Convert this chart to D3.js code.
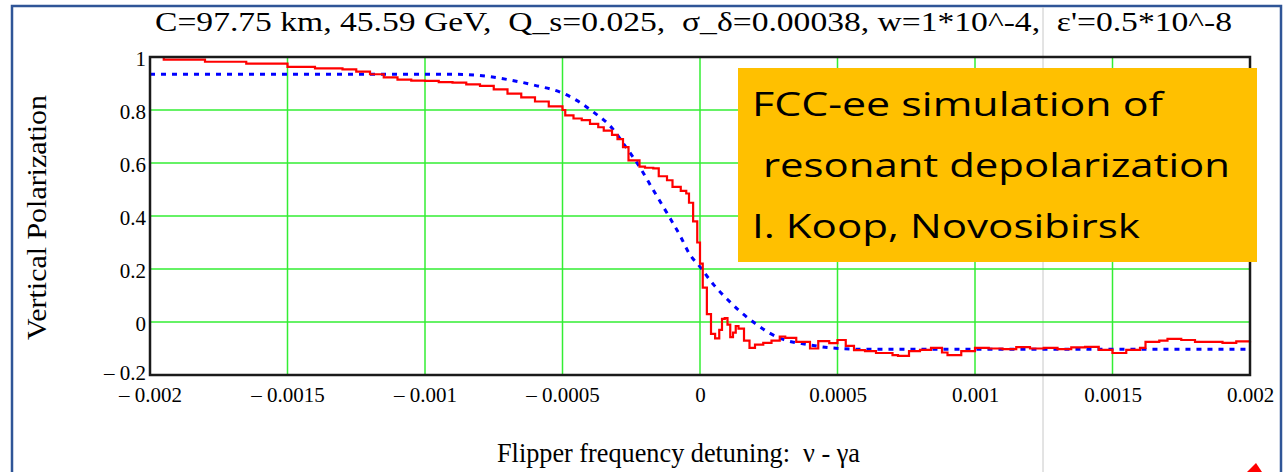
<!DOCTYPE html>
<html>
<head>
<meta charset="utf-8">
<script src="https://cdn.jsdelivr.net/npm/d3@7"></script>
<style>
  body { margin: 0; background: #fff; }
  text { white-space: pre; }
</style>
</head>
<body>
<div id="chart_div"></div>
<script>
// title and labels
const titleText = "C=97.75 km, 45.59 GeV,  Q_s=0.025,  \u03c3_\u03b4=0.00038, w=1*10^-4,  \u03b5'=0.5*10^-8"
const yLabel = "Vertical Polarization"
const xLabel = "Flipper frequency detuning:  \u03bd - \u03b3a"
const noteLines = ["FCC-ee simulation of", " resonant depolarization", "I. Koop, Novosibirsk"]

// axes
const xTicks = [-0.002, -0.0015, -0.001, -0.0005, 0, 0.0005, 0.001, 0.0015, 0.002]
const yTicks = [-0.2, 0, 0.2, 0.4, 0.6, 0.8, 1]

// simulation (red, stepped)
const simX = [-0.002, -0.00195, -0.0018, -0.00165, -0.0015, -0.0014, -0.0013, -0.00125, -0.0012, -0.00115,
  -0.0011, -0.00105, -0.001, -0.00095, -0.0009, -0.00085, -0.0008, -0.00075, -0.0007, -0.00065,
  -0.0006, -0.00055, -0.0005, -0.00049, -0.00046, -0.00043, -0.0004, -0.00037, -0.00035, -0.00032,
  -0.0003, -0.00028, -0.00026, -0.00022, -0.0002, -0.00017, -0.00015, -0.00012, -0.0001, -0.00007,
  -0.00005, -0.00004, -0.000025, -0.00001, 0, 0.00001, 0.000025, 0.00004, 0.000055, 0.00007,
  0.00008, 0.00009, 0.0001, 0.00011, 0.00012, 0.00013, 0.00014, 0.00016, 0.00018, 0.0002,
  0.00023, 0.00026, 0.00029, 0.00031, 0.00035, 0.0004, 0.00043, 0.00047, 0.0005, 0.00053,
  0.00056, 0.0006, 0.00064, 0.0007, 0.00072, 0.00076, 0.0008, 0.00084, 0.00088, 0.0009,
  0.00095, 0.001, 0.00105, 0.0011, 0.00115, 0.0012, 0.00125, 0.0013, 0.00135, 0.0014,
  0.00145, 0.0015, 0.00155, 0.0016, 0.00162, 0.00167, 0.0017, 0.00175, 0.0018, 0.00185,
  0.0019, 0.00195, 0.002]
const simP = [1.0, 0.99, 0.982, 0.975, 0.963, 0.957, 0.953, 0.945, 0.935, 0.923,
  0.915, 0.911, 0.91, 0.905, 0.903, 0.897, 0.891, 0.878, 0.862, 0.848,
  0.832, 0.814, 0.8, 0.78, 0.768, 0.762, 0.748, 0.735, 0.722, 0.706,
  0.69, 0.66, 0.61, 0.586, 0.582, 0.58, 0.55, 0.535, 0.51, 0.495,
  0.485, 0.45, 0.38, 0.3, 0.22, 0.13, 0.03, -0.045, -0.062, -0.03,
  0.012, 0.015, -0.01, -0.057, -0.04, -0.015, -0.025, -0.07, -0.098, -0.085,
  -0.079, -0.07, -0.055, -0.06, -0.075, -0.1, -0.072, -0.08, -0.068, -0.09,
  -0.106, -0.11, -0.117, -0.125, -0.128, -0.11, -0.105, -0.098, -0.115, -0.125,
  -0.11, -0.098, -0.1, -0.102, -0.095, -0.1, -0.098, -0.102, -0.096, -0.094,
  -0.105, -0.117, -0.105, -0.098, -0.075, -0.07, -0.064, -0.068, -0.075, -0.075,
  -0.079, -0.073, -0.072]

// theory (blue, dotted)
const theoryX = [-0.002, -0.0009, -0.0008, -0.0007, -0.0006, -0.0005, -0.00044, -0.00039, -0.00032, -0.00027,
  -0.00022, -0.00017, -0.00012, -0.00007, -0.00004, 0, 0.00005, 0.0001, 0.00014, 0.0002,
  0.00025, 0.0003, 0.00039, 0.00048, 0.0006, 0.002]
const theoryP = [0.935, 0.935, 0.93, 0.915, 0.893, 0.864, 0.831, 0.794, 0.732, 0.661,
  0.586, 0.498, 0.411, 0.321, 0.26, 0.208, 0.14, 0.085, 0.045, -0.005,
  -0.04, -0.065, -0.085, -0.098, -0.103, -0.103]

const simData = simX.map((x, i) => ({x: x, p: simP[i]}))
const theoryData = theoryX.map((x, i) => ({x: x, p: theoryP[i]}))

const W = 1284, H = 472
const plot = {left: 150, right: 1250, top: 57, bottom: 375}
const serif = "'Liberation Serif', 'Times New Roman', serif"

const svg = d3.select("#chart_div")
  .append("svg")
  .attr("width", W)
  .attr("height", H)
  .attr("viewBox", `0 0 ${W} ${H}`)

svg.append("rect").attr("width", W).attr("height", H).attr("fill", "#fff")

// slide frame
svg.append("path")
  .attr("d", `M12,${H} V6 H1281 V${H}`)
  .attr("fill", "none")
  .attr("stroke", "#2f5597")
  .attr("stroke-width", 2.5)

// thin gray guide line
svg.append("line")
  .attr("x1", 1043).attr("x2", 1043)
  .attr("y1", 7).attr("y2", H)
  .attr("stroke", "#c8c8c8")
  .attr("stroke-width", 1)

const x = d3.scaleLinear()
  .domain([-0.002, 0.002])
  .range([plot.left, plot.right])

const y = d3.scaleLinear()
  .domain([-0.2, 1])
  .range([plot.bottom, plot.top])

const fmt = d => d < 0 ? "\u2013 " + Math.abs(d) : String(d)

// grid
svg.append("g")
  .selectAll("line")
  .data(xTicks)
  .join("line")
  .attr("x1", d => x(d)).attr("x2", d => x(d))
  .attr("y1", plot.top).attr("y2", plot.bottom)
  .attr("stroke", "#33ee33")
  .attr("stroke-width", 1.5)

svg.append("g")
  .selectAll("line")
  .data(yTicks)
  .join("line")
  .attr("x1", plot.left).attr("x2", plot.right)
  .attr("y1", d => y(d)).attr("y2", d => y(d))
  .attr("stroke", "#33ee33")
  .attr("stroke-width", 1.5)

// X axis labels
svg.append("g")
  .attr("transform", `translate(0, ${plot.bottom})`)
  .call(d3.axisBottom(x).tickValues(xTicks).tickFormat(fmt).tickSize(0).tickPadding(12))
  .call(g => g.select(".domain").remove())
  .selectAll("text")
  .attr("font-family", serif)
  .attr("font-size", 21)
  .attr("fill", "#000")

// Y axis labels
svg.append("g")
  .attr("transform", `translate(${plot.left}, 0)`)
  .call(d3.axisLeft(y).tickValues(yTicks).tickFormat(fmt).tickSize(0).tickPadding(4))
  .call(g => g.select(".domain").remove())
  .selectAll("text")
  .attr("dy", d => d < 0 ? "0.2em" : "0.4em")
  .attr("font-family", serif)
  .attr("font-size", 21)
  .attr("fill", "#000")

// theory line
svg.append("path")
  .datum(theoryData)
  .attr("fill", "none")
  .attr("stroke", "#0000ff")
  .attr("stroke-width", 3)
  .attr("stroke-dasharray", "5,6")
  .attr("d", d3.line()
    .curve(d3.curveMonotoneX)
    .x(d => x(d.x))
    .y(d => y(d.p))
  )

// simulation line
svg.append("path")
  .datum(simData)
  .attr("fill", "none")
  .attr("stroke", "#ff0000")
  .attr("stroke-width", 2.2)
  .attr("d", d3.line()
    .curve(d3.curveStepAfter)
    .x(d => x(d.x))
    .y(d => y(d.p))
  )

// plot frame
svg.append("rect")
  .attr("x", plot.left).attr("y", plot.top)
  .attr("width", plot.right - plot.left)
  .attr("height", plot.bottom - plot.top)
  .attr("fill", "none")
  .attr("stroke", "#1a1a1a")
  .attr("stroke-width", 2.5)

// title
svg.append("text")
  .attr("x", 155).attr("y", 31)
  .attr("font-family", serif)
  .attr("font-size", 28)
  .attr("textLength", 1077)
  .attr("lengthAdjust", "spacingAndGlyphs")
  .text(titleText)

// axis titles
svg.append("text")
  .attr("transform", "translate(46, 340) rotate(-90)")
  .attr("font-family", serif)
  .attr("font-size", 28)
  .attr("textLength", 245)
  .attr("lengthAdjust", "spacingAndGlyphs")
  .text(yLabel)

svg.append("text")
  .attr("x", 497).attr("y", 462)
  .attr("font-family", serif)
  .attr("font-size", 27)
  .attr("textLength", 363)
  .attr("lengthAdjust", "spacingAndGlyphs")
  .text(xLabel)

// note box
svg.append("rect")
  .attr("x", 738).attr("y", 68)
  .attr("width", 519).attr("height", 194)
  .attr("fill", "#ffc000")

const noteWidths = [411, 478, 388]
svg.append("g")
  .selectAll("text")
  .data(noteLines)
  .join("text")
  .attr("x", 752)
  .attr("y", (d, i) => 116 + i * 61)
  .attr("font-family", "'Open Sans', 'Noto Sans', sans-serif")
  .attr("font-size", 33)
  .attr("fill", "#000")
  .attr("textLength", (d, i) => noteWidths[i])
  .attr("lengthAdjust", "spacingAndGlyphs")
  .text(d => d)

// arrow tip at the bottom corner
svg.append("path")
  .attr("d", "M1247,472 L1256,463 L1262,472 Z")
  .attr("fill", "#ff0000")
</script>
</body>
</html>
